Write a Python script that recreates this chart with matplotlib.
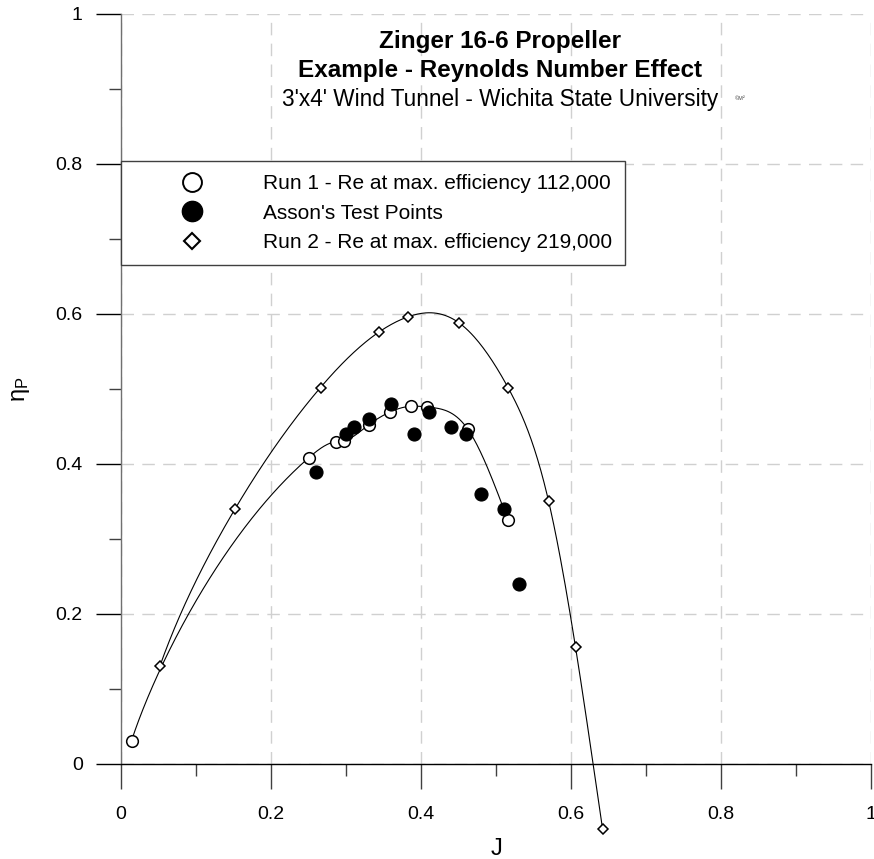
import numpy as np
import matplotlib
matplotlib.use('Agg')
import matplotlib.pyplot as plt
from matplotlib.lines import Line2D

# ---------------- data ----------------
run1_J = [0.014, 0.250, 0.287, 0.297, 0.330, 0.358, 0.386, 0.408, 0.462, 0.516]
run1_eta = [0.031, 0.408, 0.430, 0.431, 0.452, 0.469, 0.477, 0.476, 0.447, 0.325]

asson_J = [0.26, 0.30, 0.31, 0.33, 0.36, 0.39, 0.41, 0.44, 0.46, 0.48, 0.51, 0.53]
asson_eta = [0.39, 0.44, 0.45, 0.46, 0.48, 0.44, 0.47, 0.45, 0.44, 0.36, 0.34, 0.24]

run2_J = [0.052, 0.152, 0.266, 0.344, 0.382, 0.451, 0.516, 0.570, 0.606, 0.642]
run2_eta = [0.131, 0.340, 0.502, 0.576, 0.596, 0.588, 0.502, 0.351, 0.156, -0.086]

tick_vals = [0, 0.2, 0.4, 0.6, 0.8, 1.0]
tick_labels = ['0', '0.2', '0.4', '0.6', '0.8', '1']
minor_vals = [0.1, 0.3, 0.5, 0.7, 0.9]

title_lines = ['Zinger 16-6 Propeller',
               'Example - Reynolds Number Effect',
               "3'x4' Wind Tunnel - Wichita State University"]
legend_labels = ['Run 1 - Re at max. efficiency 112,000',
                 "Asson's Test Points",
                 'Run 2 - Re at max. efficiency 219,000']


# ---------------- curve helpers (fitted in a power-of-J space) ----------------
def natural_spline(x, y, xs):
    x = np.asarray(x, float); y = np.asarray(y, float)
    n = len(x); h = np.diff(x)
    A = np.zeros((n, n)); b = np.zeros(n)
    A[0, 0] = 1; A[-1, -1] = 1
    for i in range(1, n - 1):
        A[i, i - 1] = h[i - 1]; A[i, i] = 2 * (h[i - 1] + h[i]); A[i, i + 1] = h[i]
        b[i] = 3 * ((y[i + 1] - y[i]) / h[i] - (y[i] - y[i - 1]) / h[i - 1])
    c = np.linalg.solve(A, b)
    a = y[:-1]
    bb = (y[1:] - y[:-1]) / h - h * (2 * c[:-1] + c[1:]) / 3
    d = (c[1:] - c[:-1]) / (3 * h)
    idx = np.clip(np.searchsorted(x, xs) - 1, 0, n - 2)
    t = xs - x[idx]
    return a[idx] + bb[idx] * t + c[idx] * t ** 2 + d[idx] * t ** 3


def smooth_curve(x, y, xs, lam):
    x = np.asarray(x, float); y = np.asarray(y, float)
    N = len(xs)
    W = np.zeros((len(x), N))
    for k, xv in enumerate(x):
        j = min(max(np.searchsorted(xs, xv) - 1, 0), N - 2)
        w = (xv - xs[j]) / (xs[j + 1] - xs[j])
        W[k, j] = 1 - w; W[k, j + 1] = w
    D = np.diff(np.eye(N), 2, axis=0)
    return np.linalg.solve(W.T @ W + lam * D.T @ D, W.T @ y)


# ---------------- figure ----------------
plt.rcParams['font.family'] = ['Liberation Sans', 'DejaVu Sans']
fig = plt.figure(figsize=(8.74, 8.59), dpi=100)
ax = fig.add_axes([121 / 874, 95 / 859, 750 / 874, 750 / 859])
ax.set_xlim(0, 1)
ax.set_ylim(0, 1)

for s in ['top', 'right']:
    ax.spines[s].set_visible(False)
ax.spines['left'].set_color('#707070')
ax.spines['left'].set_linewidth(1.0)
ax.spines['bottom'].set_color('black')
ax.spines['bottom'].set_linewidth(1.0)

ax.set_xticks(tick_vals)
ax.set_xticklabels(tick_labels)
ax.set_yticks(tick_vals)
ax.set_yticklabels(tick_labels)
ax.set_xticks(minor_vals, minor=True)
ax.set_yticks(minor_vals, minor=True)
ax.tick_params(axis='x', which='major', direction='out', length=18, width=1.0,
               color='#404040', labelsize=14, pad=12)
ax.tick_params(axis='y', which='major', direction='out', length=18, width=1.0,
               color='black', labelsize=14, pad=9.5)
ax.tick_params(axis='both', which='minor', direction='out', length=8.6, width=1.0,
               color='#404040')

ax.grid(True, which='major', color='#d0d0d0', linestyle=(0, (9, 6)), linewidth=1.0)
ax.set_axisbelow(True)

# curves
p1 = 0.75
u1 = np.asarray(run1_J) ** p1
us1 = np.linspace(u1[0], u1[-1], 400)
ys1 = smooth_curve(u1, run1_eta, us1, 0.8)
ax.plot(us1 ** (1 / p1), ys1, color='black', lw=0.8, zorder=3)

p2 = 0.5
u2 = np.asarray(run2_J) ** p2
us2 = np.linspace(u2[0], u2[-1], 400)
ys2 = natural_spline(u2, run2_eta, us2)
ax.plot(us2 ** (1 / p2), ys2, color='black', lw=0.8, zorder=3, clip_on=False)

# markers
ax.plot(asson_J, asson_eta, ls='none', marker='o', ms=9.4, mfc='black',
        mec='black', mew=0.8, zorder=5)
ax.plot(run1_J, run1_eta, ls='none', marker='o', ms=8.4, mfc='white',
        mec='black', mew=1.1, zorder=4)
ax.plot(run2_J, run2_eta, ls='none', marker='D', ms=5.6, mfc='white',
        mec='black', mew=1.1, zorder=4, clip_on=False)

# legend
handles = [Line2D([], [], ls='none', marker='o', ms=13.6, mfc='white', mec='black', mew=1.4),
           Line2D([], [], ls='none', marker='o', ms=14.6, mfc='black', mec='black', mew=1.0),
           Line2D([], [], ls='none', marker='D', ms=8.6, mfc='white', mec='black', mew=1.5)]
leg = ax.legend(handles, legend_labels, loc='upper left', bbox_to_anchor=(0, 0.8035),
                bbox_transform=ax.transData, borderaxespad=0, fontsize=15,
                borderpad=0.62, labelspacing=0.5, handlelength=5.6, handletextpad=0.6,
                fancybox=False, framealpha=1, edgecolor='#404040')
leg.get_frame().set_linewidth(1.0)
leg.set_zorder(6)

# titles
ax.text(0.505, (764 - 48) / 750, title_lines[0], transform=ax.transAxes, ha='center',
        va='baseline', fontsize=17.5, fontweight='bold')
ax.text(0.505, (764 - 77) / 750, title_lines[1], transform=ax.transAxes, ha='center',
        va='baseline', fontsize=17.5, fontweight='bold')
ax.text(0.505, (764 - 106) / 750, title_lines[2], transform=ax.transAxes, ha='center',
        va='baseline', fontsize=16.3)
ax.text((735 - 121) / 750, (764 - 100) / 750, '©M²', transform=ax.transAxes, ha='left',
        va='baseline', fontsize=4, color='#444444')

# axis labels
ax.set_xlabel('J', fontsize=17, va='center')
ax.xaxis.set_label_coords(0.5, (764 - 849) / 750)
ax.set_ylabel(r'$\mathregular{\eta_P}$', fontsize=17, va='center')
ax.yaxis.set_label_coords((21 - 121) / 750, 0.5)

fig.savefig('out.png', dpi=100)
